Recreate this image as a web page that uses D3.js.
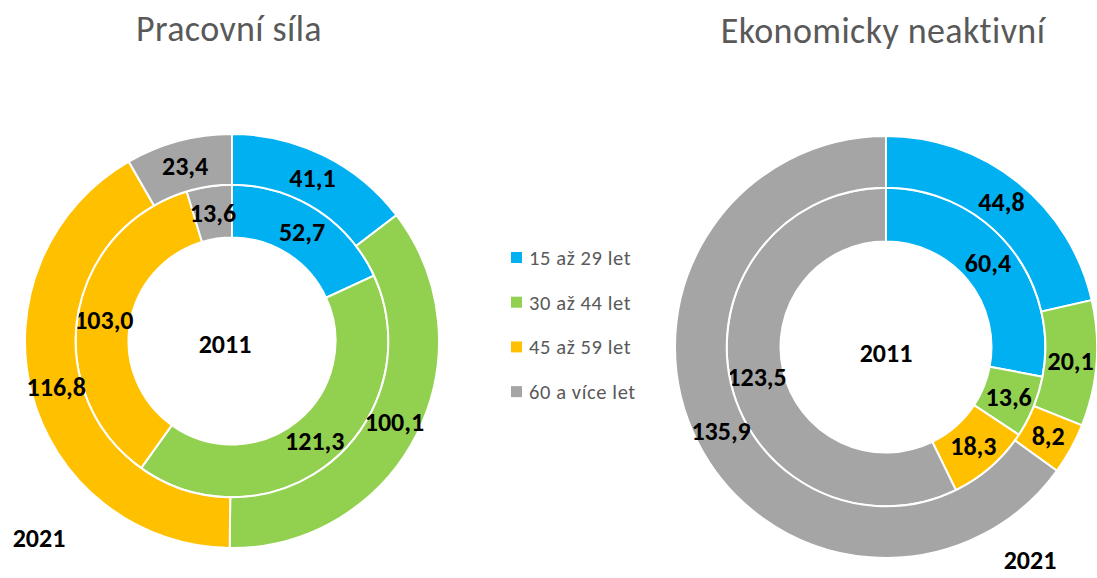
<!DOCTYPE html>
<html lang="cs">
<head>
<meta charset="UTF-8">
<title>Pracovní síla a ekonomicky neaktivní</title>
<script src="https://d3js.org/d3.v7.min.js"></script>
<style>
  body { margin: 0; background: #fff; }
  svg { display: block; font-family: Carlito, Calibri, Lato, sans-serif; }
  .title { fill: #595959; font-size: 36px; text-anchor: middle; letter-spacing: 0.4px; }
  .value { fill: #000; font-size: 26px; font-weight: bold; text-anchor: middle; dominant-baseline: central; }
  .legend-text { fill: #595959; font-size: 20.5px; letter-spacing: 0.6px; }
</style>
</head>
<body>
<div id="chart"></div>
<script>
  // data
  const categories = ["15 až 29 let", "30 až 44 let", "45 až 59 let", "60 a více let"];
  const colors = ["#00B0F0", "#92D050", "#FFC000", "#A5A5A5"];
  const labor2011 = [52.7, 121.3, 103.0, 13.6];
  const labor2021 = [41.1, 100.1, 116.8, 23.4];
  const inactive2011 = [60.4, 13.6, 18.3, 123.5];
  const inactive2021 = [44.8, 20.1, 8.2, 135.9];

  const W = 1097, H = 578;
  const svg = d3.select("#chart").append("svg")
    .attr("width", W).attr("height", H);

  const color = d3.scaleOrdinal().domain(categories).range(colors);
  const cs = d3.formatLocale({ decimal: ",", thousands: " ", grouping: [3], currency: ["", " Kč"] });
  const fmt = cs.format(".1f");

  const pie = d3.pie().sort(null).value(d => d.v);

  function donut(cx, cy, R, title, titleY, inner, outer, pos2011, pos2021) {
    const g = svg.append("g").attr("transform", `translate(${cx},${cy})`);
    const rings = [
      { vals: inner, r0: R * 0.5, r1: R * 0.755 },
      { vals: outer, r0: R * 0.755, r1: R }
    ];
    rings.forEach(ring => {
      const arc = d3.arc().innerRadius(ring.r0).outerRadius(ring.r1);
      const arcs = pie(ring.vals.map((v, i) => ({ v, c: categories[i] })));
      g.append("g").selectAll("path")
        .data(arcs).join("path")
        .attr("d", arc)
        .attr("fill", d => color(d.data.c))
        .attr("stroke", "#fff")
        .attr("stroke-width", 2);
      g.append("g").selectAll("text")
        .data(arcs).join("text")
        .attr("class", "value")
        .attr("transform", d => `translate(${arc.centroid(d)})`)
        .text(d => fmt(d.data.v));
    });
    g.append("text").attr("class", "value")
      .attr("x", pos2011[0]).attr("y", pos2011[1]).text("2011");
    g.append("text").attr("class", "value")
      .attr("x", pos2021[0]).attr("y", pos2021[1]).text("2021");
    svg.append("text").attr("class", "title")
      .attr("x", cx - 3).attr("y", titleY).text(title);
  }

  donut(232, 341, 207, "Pracovní síla", 41, labor2011, labor2021, [-7, 3], [-193, 197]);
  donut(886, 347, 211, "Ekonomicky neaktivní", 43, inactive2011, inactive2021, [0, 6], [144, 213]);

  // legend
  const legend = svg.append("g").attr("transform", "translate(511,252)");
  const row = legend.selectAll("g").data(categories).join("g")
    .attr("transform", (d, i) => `translate(0,${i * 44.7})`);
  row.append("rect").attr("width", 11).attr("height", 11).attr("fill", d => color(d));
  row.append("text").attr("class", "legend-text")
    .attr("x", 18).attr("y", 13).text(d => d);
</script>
</body>
</html>
